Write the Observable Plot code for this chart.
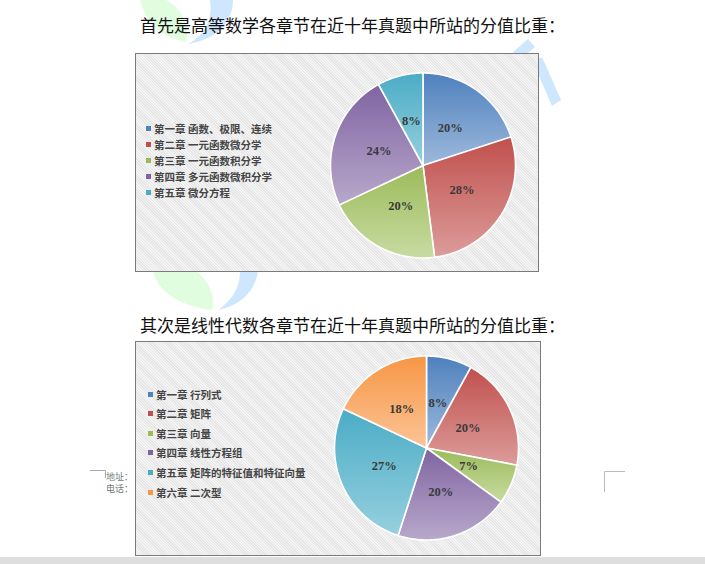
<!DOCTYPE html>
<html><head><meta charset="utf-8">
<script src="https://cdn.jsdelivr.net/npm/d3@7"></script>
<script src="https://cdn.jsdelivr.net/npm/@observablehq/plot@0.6"></script>
<style>
html,body{margin:0;padding:0;background:#fff;}
body{width:705px;height:564px;position:relative;overflow:hidden;font-family:"Noto Sans CJK SC","Noto Sans",sans-serif;}
.title{position:absolute;left:140px;font-size:17px;line-height:17px;color:#111;white-space:nowrap;z-index:2;}
.box{position:absolute;border:1px solid #7a7a7a;box-sizing:border-box;z-index:2;
 background:repeating-linear-gradient(45deg,#f4f4f4 0px,#f4f4f4 1px,#e6e6e6 1px,#e6e6e6 2px);}
.box svg{position:absolute;left:0;top:0;}
.legend{position:absolute;z-index:3;}
.legend .row{position:absolute;left:0;white-space:nowrap;font-size:10.5px;font-weight:700;color:#454545;display:flex;align-items:center;}
.legend .sq{display:inline-block;width:5px;height:5px;margin-right:3px;}
.small{position:absolute;font-size:9px;color:#777;line-height:10px;z-index:2;white-space:nowrap;}
#wm{position:absolute;left:0;top:0;z-index:0;}
#bar{position:absolute;left:0;top:557px;width:705px;height:7px;background:#dedede;}
</style></head>
<body>
<svg id="wm" width="705" height="564">
  <path d="M140,0 C145,20 160,38 186,42 C190,25 181,8 166,0 Z" fill="#e0fde0"/>
  <path d="M210,0 L233,0 C233,22 216,40 188,44 C205,35 213,20 210,0 Z" fill="#cfe6ff"/>
  <path d="M513,52 L528,39 L535,47 L520,60 Z" fill="#cfe6ff"/>
  <path d="M533,62 L542,57 L561,100 L552,106 Z" fill="#cfe6ff"/>
  <path d="M153,271 C158,292 180,306 212,310 C216,292 206,279 196,271 Z" fill="#e0fde0"/>
  <path d="M240,271 L258,271 C255,292 240,306 218,310 C232,300 240,288 240,271 Z" fill="#cfe6ff"/>
</svg>

<div class="title" style="top:16px">首先是高等数学各章节在近十年真题中所站的分值比重：</div>
<div class="box" id="box1" style="left:135px;top:53px;width:404px;height:219px"></div>
<div class="legend" id="leg1"></div>

<div class="title" style="top:316px">其次是线性代数各章节在近十年真题中所站的分值比重：</div>
<div class="box" id="box2" style="left:135px;top:341px;width:406px;height:215px"></div>
<div class="legend" id="leg2"></div>

<svg style="position:absolute;left:0;top:0;z-index:1" width="705" height="564">
  <path d="M90,470.5 H105.5 V478" fill="none" stroke="#aaa" stroke-width="1"/>
  <path d="M604.5,492 V471.5 H625" fill="none" stroke="#bbb" stroke-width="1"/>
</svg>
<div class="small" style="left:106px;top:472px">地址：</div>
<div class="small" style="left:106px;top:484px">电话：</div>
<div id="bar"></div>

<script>
// ---- data ----
const chapters1 = ["第一章 函数、极限、连续", "第二章 一元函数微分学", "第三章 一元函数积分学", "第四章 多元函数微积分学", "第五章 微分方程"];
const values1 = [20, 28, 20, 24, 8];
const chapters2 = ["第一章 行列式", "第二章 矩阵", "第三章 向量", "第四章 线性方程组", "第五章 矩阵的特征值和特征向量", "第六章 二次型"];
const values2 = [8, 20, 7, 20, 27, 18];
const colors = ["#4F81BD", "#C0504D", "#9BBB59", "#8064A2", "#4BACC6", "#F79646"];
const tints  = ["#9DB9DC", "#DC9C9A", "#C8DBA2", "#B8A8CB", "#96D0DE", "#FBC495"];

function pieChart({id, values, width, height, cx, cy, r}) {
  const arcs = d3.pie().sort(null).value(d => d)(values);
  const pts = [];
  arcs.forEach((a, i) => {
    const g = `url(#${id}-g${i})`;
    pts.push({k: i, x: 0, y: 0, g});
    const n = Math.max(2, Math.ceil((a.endAngle - a.startAngle) / 0.015));
    for (let j = 0; j <= n; j++) {
      const t = a.startAngle + (a.endAngle - a.startAngle) * j / n;
      pts.push({k: i, x: Math.sin(t), y: Math.cos(t), g});
    }
  });
  const labels = arcs.map((a, i) => {
    const m = (a.startAngle + a.endAngle) / 2;
    return {x: 0.5 * Math.sin(m), y: 0.5 * Math.cos(m), t: values[i] + "%"};
  });
  const svg = Plot.plot({
    width, height,
    marginLeft: cx - r, marginRight: width - cx - r,
    marginTop: cy - r, marginBottom: height - cy - r,
    x: {domain: [-1, 1], axis: null},
    y: {domain: [-1, 1], axis: null},
    color: {type: "identity"},
    style: {background: "transparent", overflow: "visible"},
    marks: [
      Plot.line(pts, {x: "x", y: "y", z: "k", fill: "g", stroke: "white", strokeWidth: 1.6, curve: "linear-closed"}),
      Plot.text(labels, {x: "x", y: "y", text: "t", fontFamily: "Liberation Serif, Times New Roman, serif",
        fontWeight: "bold", fontSize: 12.5, fill: "#3a3a3a"})
    ]
  });
  const defs = d3.select(svg).insert("defs", ":first-child");
  values.forEach((v, i) => {
    const lg = defs.append("linearGradient").attr("id", `${id}-g${i}`)
      .attr("x1", 0).attr("y1", 0).attr("x2", 0).attr("y2", 1);
    lg.append("stop").attr("offset", "0%").attr("stop-color", colors[i]);
    lg.append("stop").attr("offset", "100%").attr("stop-color", tints[i]);
  });
  return svg;
}

function legend(el, chapters, left, top, step) {
  const root = document.getElementById(el);
  root.style.left = left + "px";
  root.style.top = top + "px";
  chapters.forEach((c, i) => {
    const row = document.createElement("div");
    row.className = "row";
    row.style.top = (i * step - 8) + "px";
    row.style.height = "16px";
    const sq = document.createElement("span");
    sq.className = "sq";
    sq.style.background = colors[i];
    row.appendChild(sq);
    row.appendChild(document.createTextNode(c));
    root.appendChild(row);
  });
}

document.getElementById("box1").appendChild(
  pieChart({id: "p1", values: values1, width: 402, height: 217, cx: 286.5, cy: 111, r: 92.5}));
document.getElementById("box2").appendChild(
  pieChart({id: "p2", values: values2, width: 404, height: 213, cx: 290, cy: 105.5, r: 92}));

legend("leg1", chapters1, 146, 128, 16.1);
legend("leg2", chapters2, 148, 394, 19.6);
</script>
</body></html>
